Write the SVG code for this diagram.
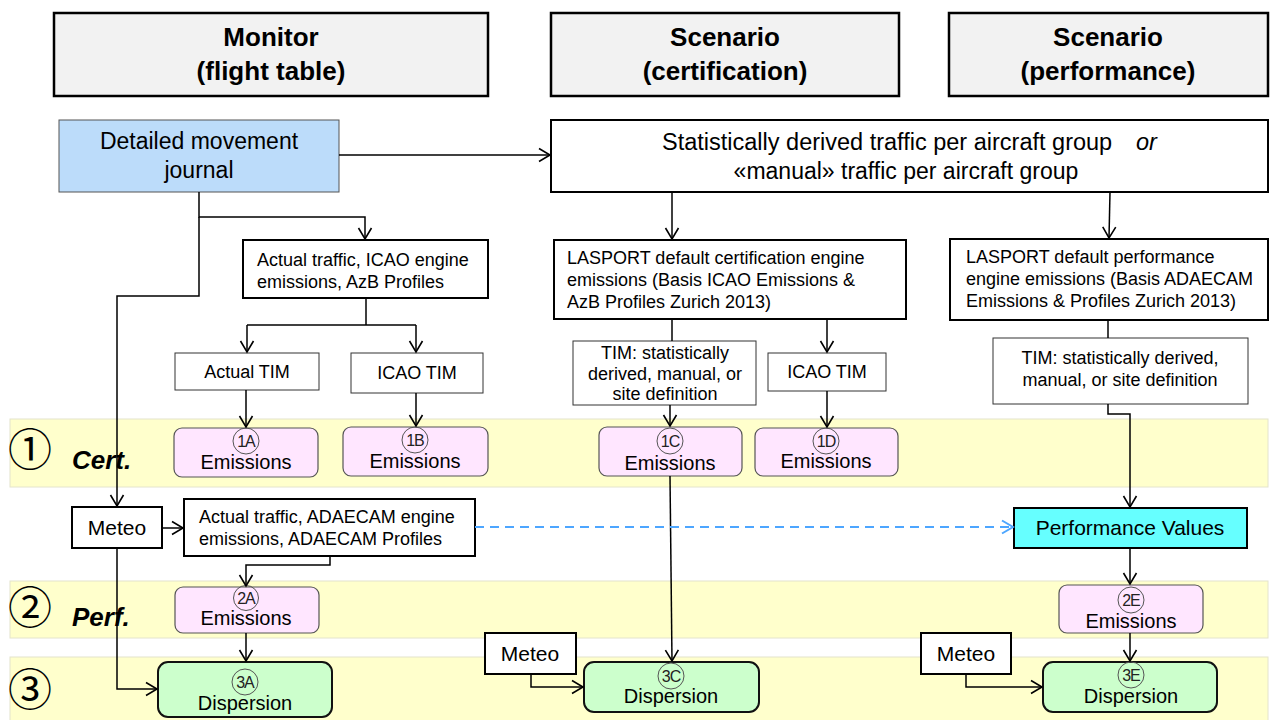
<svg xmlns="http://www.w3.org/2000/svg" width="1273" height="720" viewBox="0 0 1273 720">
<style>
text{font-family:"Liberation Sans",Arial,sans-serif;fill:#000}
.hdr{fill:#f2f2f2;stroke:#000;stroke-width:2.5}
.hdrt{font-size:26px;font-weight:bold;text-anchor:middle}
.thick{fill:#fff;stroke:#000;stroke-width:2}
.thin{fill:#fff;stroke:#333;stroke-width:1}
.m{font-size:18px}
.mc{font-size:18px;text-anchor:middle}
.big{font-size:23.5px}
.bigc{font-size:23px;text-anchor:middle}
.band{fill:#ffffcc;stroke:#e4e4cc;stroke-width:1}
.emi{fill:#ffe6ff;stroke:#555;stroke-width:1.2}
.dis{fill:#ccffcc;stroke:#111;stroke-width:2}
.lbl{font-size:20px;text-anchor:middle}
.cl{fill:none;stroke:#555;stroke-width:1}
.ct{font-size:16px;text-anchor:middle;fill:#222;letter-spacing:-1px}
.num{font-family:"Noto Sans CJK JP","DejaVu Sans",sans-serif;font-size:44px}
.cat{font-size:26px;font-weight:bold;font-style:italic}
.met{font-size:21px;text-anchor:middle}
.con{fill:none;stroke:#000;stroke-width:1.5}
</style>
<defs>
<marker id="ah" markerUnits="userSpaceOnUse" markerWidth="16" markerHeight="16" refX="13" refY="8" orient="auto">
<path d="M2,1.5 L13,8 L2,14.5" fill="none" stroke="#000" stroke-width="1.6"/>
</marker>
<marker id="ahb" markerUnits="userSpaceOnUse" markerWidth="16" markerHeight="16" refX="13" refY="8" orient="auto">
<path d="M2,1.5 L13,8 L2,14.5" fill="none" stroke="#4da6ff" stroke-width="2"/>
</marker>
</defs>

<g id="bands">
<rect class="band" x="10" y="419" width="1258" height="68"/>
<rect class="band" x="10" y="581" width="1258" height="57"/>
<rect class="band" x="10" y="657" width="1258" height="66"/>
<text class="num" x="8" y="466">①</text>
<text class="num" x="8" y="624">②</text>
<text class="num" x="8" y="706">③</text>
<text class="cat" x="72" y="469">Cert.</text>
<text class="cat" x="72" y="626">Perf.</text>
</g>

<g id="hdr-monitor"><rect class="hdr" x="54" y="13" width="434" height="83"/>
<text class="hdrt" x="271" y="46">Monitor</text><text class="hdrt" x="271" y="80">(flight table)</text></g>
<g id="hdr-cert"><rect class="hdr" x="551" y="13" width="348" height="83"/>
<text class="hdrt" x="725" y="46">Scenario</text><text class="hdrt" x="725" y="80">(certification)</text></g>
<g id="hdr-perf"><rect class="hdr" x="949" y="13" width="319" height="83"/>
<text class="hdrt" x="1108" y="46">Scenario</text><text class="hdrt" x="1108" y="80">(performance)</text></g>

<g id="journal"><rect x="59" y="120" width="280" height="72" fill="#bcdcfa" stroke="#555" stroke-width="1"/>
<text class="bigc" x="199" y="149">Detailed movement</text><text class="bigc" x="199" y="178">journal</text></g>

<g id="traffic"><rect class="thick" x="551" y="120" width="717" height="72" stroke-width="1.5"/>
<text class="big" x="662" y="150">Statistically derived traffic per aircraft group</text>
<text class="big" x="1136" y="150" font-style="italic">or</text>
<text class="bigc" x="906" y="179">«manual» traffic per aircraft group</text></g>

<g id="act-icao"><rect class="thick" x="243" y="240" width="245" height="58"/>
<text class="m" x="257" y="266">Actual traffic, ICAO engine</text><text class="m" x="257" y="288">emissions, AzB Profiles</text></g>
<g id="actual-tim"><rect class="thin" x="175" y="353" width="144" height="37"/><text class="mc" x="247" y="378">Actual TIM</text></g>
<g id="icao-tim-m"><rect class="thin" x="351" y="353" width="132" height="40"/><text class="mc" x="417" y="379">ICAO TIM</text></g>

<g id="lasport-cert"><rect class="thick" x="554" y="240" width="352" height="79"/>
<text class="m" x="567" y="264">LASPORT default certification engine</text>
<text class="m" x="567" y="286">emissions (Basis ICAO Emissions &amp;</text>
<text class="m" x="567" y="308">AzB Profiles Zurich 2013)</text></g>
<g id="tim-cert"><rect class="thin" x="573" y="341" width="183" height="64"/>
<text class="mc" x="665" y="359">TIM: statistically</text><text class="mc" x="665" y="380">derived, manual, or</text><text class="mc" x="665" y="400">site definition</text></g>
<g id="icao-tim-c"><rect class="thin" x="768" y="353" width="118" height="38"/><text class="mc" x="827" y="378">ICAO TIM</text></g>

<g id="lasport-perf"><rect class="thick" x="950" y="239" width="318" height="81"/>
<text class="m" x="966" y="263">LASPORT default performance</text>
<text class="m" x="966" y="285">engine emissions (Basis ADAECAM</text>
<text class="m" x="966" y="307">Emissions &amp; Profiles Zurich 2013)</text></g>
<g id="tim-perf"><rect class="thin" x="993" y="338" width="255" height="66"/>
<text class="mc" x="1120" y="364">TIM: statistically derived,</text><text class="mc" x="1120" y="386">manual, or site definition</text></g>

<g id="e1A"><rect class="emi" x="174" y="428" width="144" height="49" rx="8"/><circle class="cl" cx="246" cy="441" r="13"/><text class="ct" x="246" y="447">1A</text><text class="lbl" x="246" y="469">Emissions</text></g>
<g id="e1B"><rect class="emi" x="343" y="427" width="145" height="49" rx="8"/><circle class="cl" cx="415" cy="440" r="13"/><text class="ct" x="415" y="446">1B</text><text class="lbl" x="415" y="468">Emissions</text></g>
<g id="e1C"><rect class="emi" x="599" y="427" width="143" height="49" rx="8"/><circle class="cl" cx="670" cy="441" r="13"/><text class="ct" x="670" y="447">1C</text><text class="lbl" x="670" y="470">Emissions</text></g>
<g id="e1D"><rect class="emi" x="755" y="428" width="143" height="48" rx="8"/><circle class="cl" cx="826" cy="441" r="13"/><text class="ct" x="826" y="447">1D</text><text class="lbl" x="826" y="468">Emissions</text></g>

<g id="meteo-m"><rect class="thick" x="72" y="507" width="90" height="41"/><text class="met" x="117" y="535">Meteo</text></g>
<g id="act-adaecam"><rect class="thick" x="184" y="499" width="291" height="57"/>
<text class="m" x="199" y="523">Actual traffic, ADAECAM engine</text><text class="m" x="199" y="545">emissions, ADAECAM Profiles</text></g>
<g id="perf-values"><rect x="1014" y="508" width="233" height="40" fill="#66ffff" stroke="#000" stroke-width="2"/>
<text class="met" x="1130" y="535">Performance Values</text></g>

<g id="e2A"><rect class="emi" x="175" y="587" width="144" height="46" rx="8"/><circle class="cl" cx="246" cy="598" r="12.5"/><text class="ct" x="246" y="604">2A</text><text class="lbl" x="246" y="625">Emissions</text></g>
<g id="e2E"><rect class="emi" x="1059" y="585" width="144" height="48" rx="8"/><circle class="cl" cx="1131" cy="600" r="13"/><text class="ct" x="1131" y="606">2E</text><text class="lbl" x="1131" y="628">Emissions</text></g>

<g id="meteo-c"><rect class="thick" x="485" y="633" width="91" height="41"/><text class="met" x="530" y="661">Meteo</text></g>
<g id="meteo-p"><rect class="thick" x="921" y="633" width="90" height="41"/><text class="met" x="966" y="661">Meteo</text></g>

<g id="d3A"><rect class="dis" x="158" y="662" width="174" height="55" rx="10"/><circle class="cl" cx="245" cy="682" r="13"/><text class="ct" x="245" y="688">3A</text><text class="lbl" x="245" y="710">Dispersion</text></g>
<g id="d3C"><rect class="dis" x="584" y="662" width="175" height="50" rx="10"/><circle class="cl" cx="671" cy="676" r="13"/><text class="ct" x="671" y="682">3C</text><text class="lbl" x="671" y="703">Dispersion</text></g>
<g id="d3E"><rect class="dis" x="1043" y="662" width="174" height="50" rx="10"/><circle class="cl" cx="1131" cy="675" r="13"/><text class="ct" x="1131" y="681">3E</text><text class="lbl" x="1131" y="703">Dispersion</text></g>

<g id="connectors">
<path class="con" d="M339,155 H550" marker-end="url(#ah)"/>
<path class="con" d="M199,192 V217 H365 V239" marker-end="url(#ah)"/>
<path class="con" d="M199,217 V296 H117 V506" marker-end="url(#ah)"/>
<path class="con" d="M672,192 V239" marker-end="url(#ah)"/>
<path class="con" d="M1110,192 L1109,238" marker-end="url(#ah)"/>
<path class="con" d="M366,298 V325"/>
<path class="con" d="M247,325 H416"/>
<path class="con" d="M247,325 V352" marker-end="url(#ah)"/>
<path class="con" d="M416,325 V352" marker-end="url(#ah)"/>
<path class="con" d="M246,390 V427" marker-end="url(#ah)"/>
<path class="con" d="M416,393 V426" marker-end="url(#ah)"/>
<path class="con" d="M672,319 V341"/>
<path class="con" d="M827,319 V352" marker-end="url(#ah)"/>
<path class="con" d="M670,405 V426" marker-end="url(#ah)"/>
<path class="con" d="M827,391 V427" marker-end="url(#ah)"/>
<path class="con" d="M670,476 L672,661" marker-end="url(#ah)"/>
<path class="con" d="M1108,320 V338"/>
<path class="con" d="M1108,404 V414 H1130 V507" marker-end="url(#ah)"/>
<path class="con" d="M1130,548 V584" marker-end="url(#ah)"/>
<path class="con" d="M1130,633 V661" marker-end="url(#ah)"/>
<path class="con" d="M966,674 V687 H1042" marker-end="url(#ah)"/>
<path class="con" d="M531,674 V687 H583" marker-end="url(#ah)"/>
<path class="con" d="M162,528 H183" marker-end="url(#ah)"/>
<path class="con" d="M330,556 V565 H246 V586" marker-end="url(#ah)"/>
<path class="con" d="M246,633 V661" marker-end="url(#ah)"/>
<path class="con" d="M117,548 V689 H157" marker-end="url(#ah)"/>
<path d="M475,527 H1013" fill="none" stroke="#4da6ff" stroke-width="2" stroke-dasharray="9,6" marker-end="url(#ahb)"/>
</g>
</svg>
